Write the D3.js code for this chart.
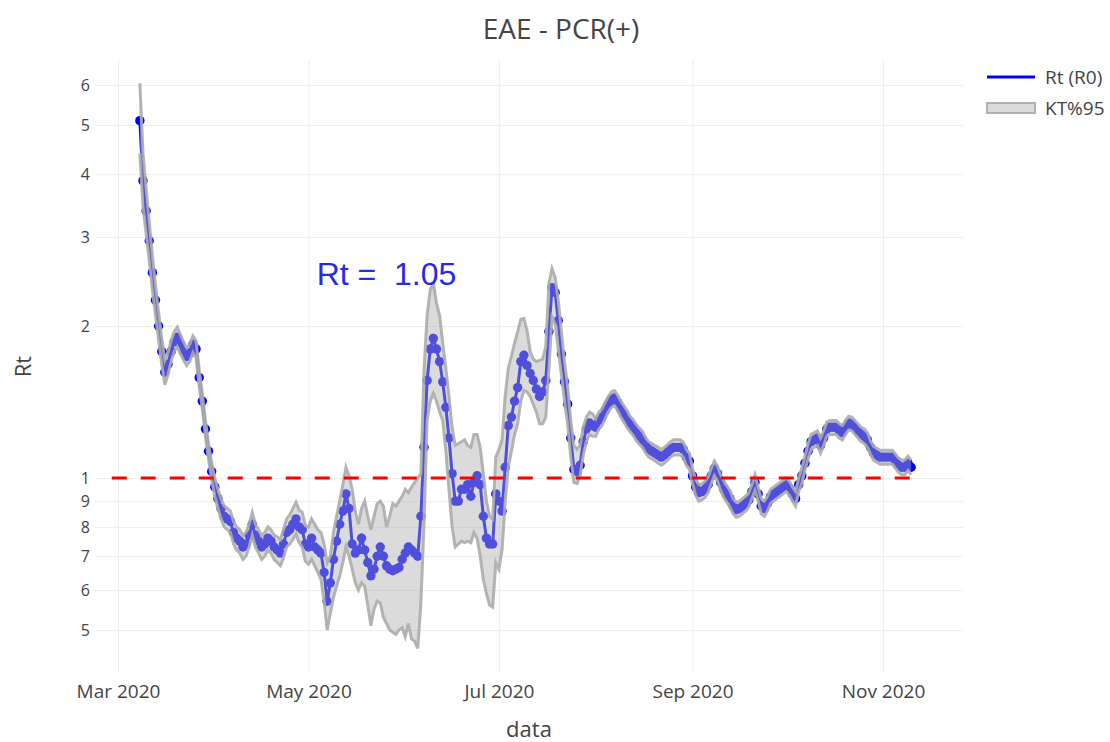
<!DOCTYPE html>
<html>
<head>
<meta charset="utf-8">
<script src="https://cdn.jsdelivr.net/npm/d3@7"></script>
<style>
  body { margin: 0; background: #fff; }
  svg { font-family: "Open Sans", verdana, arial, sans-serif; }
  .tick line { stroke: #eee; }
  .tick text { fill: #444; }
</style>
</head>
<body>
<svg id="chart"></svg>
<script>
const width = 1110,
  height = 742

// daily series, first day below, one value per day
const startDay = '2020-03-08'

const rtValues = [
  // Mar 8 - 31
  5.10, 3.88, 3.38, 2.95, 2.55, 2.25, 2.00, 1.78, 1.62, 1.68, 1.78, 1.86, 1.90, 1.84, 1.78, 1.74, 1.77, 1.84, 1.80, 1.58, 1.42, 1.25, 1.13, 1.03,
  // Apr
  0.96, 0.91, 0.87, 0.84, 0.83, 0.82, 0.78, 0.76, 0.75, 0.73, 0.74, 0.77, 0.81, 0.77, 0.75, 0.73, 0.74, 0.76, 0.75, 0.73, 0.72, 0.71, 0.74, 0.78, 0.79, 0.81, 0.83, 0.80, 0.79, 0.74,
  // May
  0.73, 0.76, 0.73, 0.72, 0.71, 0.65, 0.57, 0.62, 0.69, 0.75, 0.81, 0.86, 0.93, 0.87, 0.74, 0.71, 0.72, 0.76, 0.72, 0.68, 0.64, 0.66, 0.70, 0.73, 0.70, 0.67, 0.66, 0.655, 0.66, 0.665, 0.69,
  // Jun
  0.71, 0.73, 0.72, 0.71, 0.70, 0.84, 1.15, 1.56, 1.80, 1.89, 1.80, 1.70, 1.55, 1.38, 1.20, 1.02, 0.90, 0.90, 0.95, 0.95, 0.97, 0.92, 0.98, 1.01, 0.97, 0.84, 0.76, 0.74, 0.74, 0.93,
  // Jul
  0.90, 0.86, 1.05, 1.27, 1.32, 1.42, 1.51, 1.70, 1.75, 1.67, 1.61, 1.56, 1.50, 1.45, 1.48, 1.56, 1.95, 2.38, 2.33, 2.05, 1.76, 1.55, 1.40, 1.20, 1.04, 1.03, 1.06, 1.18, 1.25, 1.285, 1.27,
  // Aug
  1.26, 1.30, 1.32, 1.36, 1.40, 1.43, 1.44, 1.41, 1.37, 1.34, 1.31, 1.28, 1.26, 1.23, 1.21, 1.19, 1.16, 1.14, 1.13, 1.12, 1.11, 1.10, 1.11, 1.125, 1.14, 1.15, 1.15, 1.15, 1.14, 1.10, 1.08,
  // Sep
  1.01, 0.96, 0.935, 0.94, 0.95, 0.97, 1.01, 1.045, 1.02, 0.98, 0.95, 0.93, 0.91, 0.88, 0.865, 0.87, 0.88, 0.89, 0.905, 0.94, 0.98, 0.93, 0.88, 0.87, 0.89, 0.92, 0.93, 0.94, 0.95, 0.96,
  // Oct
  0.97, 0.955, 0.93, 0.91, 0.97, 1.01, 1.07, 1.13, 1.18, 1.19, 1.20, 1.16, 1.20, 1.25, 1.26, 1.26, 1.26, 1.24, 1.23, 1.26, 1.285, 1.28, 1.26, 1.24, 1.22, 1.21, 1.19, 1.15, 1.12, 1.11, 1.10,
  // Nov 1 - 10
  1.10, 1.10, 1.10, 1.10, 1.08, 1.06, 1.05, 1.05, 1.07, 1.05
]

const lowerValues = [
  4.40, 3.45, 3.05, 2.70, 2.36, 2.10, 1.88, 1.68, 1.53, 1.60, 1.70, 1.78, 1.82, 1.76, 1.71, 1.67, 1.70, 1.77, 1.73, 1.52, 1.37, 1.21, 1.09, 0.99,
  0.92, 0.87, 0.83, 0.80, 0.79, 0.78, 0.74, 0.72, 0.71, 0.69, 0.70, 0.73, 0.77, 0.73, 0.71, 0.69, 0.70, 0.72, 0.71, 0.69, 0.68, 0.67, 0.695, 0.73, 0.74, 0.755, 0.775, 0.745, 0.73, 0.685,
  0.675, 0.69, 0.67, 0.65, 0.63, 0.57, 0.50, 0.54, 0.58, 0.61, 0.64, 0.68, 0.73, 0.70, 0.66, 0.62, 0.60, 0.62, 0.61, 0.56, 0.51, 0.55, 0.57, 0.565, 0.53, 0.515, 0.50, 0.495, 0.49, 0.50, 0.505,
  0.485, 0.515, 0.48, 0.475, 0.46, 0.565, 0.81, 1.30, 1.42, 1.47, 1.42, 1.35, 1.30, 1.13, 0.95, 0.80, 0.73, 0.74, 0.75, 0.745, 0.75, 0.745, 0.78, 0.76, 0.70, 0.63, 0.59, 0.56, 0.555, 0.68,
  0.66, 0.72, 0.90, 1.05, 1.13, 1.22, 1.28, 1.42, 1.49, 1.48, 1.45, 1.40, 1.35, 1.28, 1.28, 1.32, 1.64, 2.08, 2.02, 1.80, 1.60, 1.42, 1.28, 1.10, 0.98, 0.975, 1.01, 1.11, 1.18, 1.22, 1.21,
  1.21, 1.25, 1.27, 1.31, 1.35, 1.38, 1.39, 1.36, 1.32, 1.29, 1.26, 1.235, 1.215, 1.185, 1.165, 1.15, 1.12, 1.10, 1.09, 1.08, 1.07, 1.06, 1.07, 1.085, 1.10, 1.11, 1.11, 1.11, 1.10, 1.06, 1.04,
  0.975, 0.925, 0.90, 0.905, 0.915, 0.935, 0.975, 1.01, 0.985, 0.945, 0.915, 0.895, 0.875, 0.85, 0.835, 0.84, 0.85, 0.86, 0.875, 0.91, 0.945, 0.90, 0.85, 0.84, 0.86, 0.89, 0.90, 0.91, 0.92, 0.93,
  0.94, 0.925, 0.90, 0.88, 0.94, 0.975, 1.035, 1.09, 1.14, 1.15, 1.16, 1.12, 1.16, 1.21, 1.22, 1.22, 1.22, 1.20, 1.19, 1.22, 1.245, 1.24, 1.22, 1.20, 1.18, 1.17, 1.15, 1.115, 1.085, 1.075, 1.065,
  1.065, 1.065, 1.065, 1.065, 1.045, 1.025, 1.015, 1.015, 1.035, 1.015
]

const upperValues = [
  6.05, 4.40, 3.75, 3.22, 2.76, 2.41, 2.13, 1.89, 1.71, 1.77, 1.87, 1.95, 1.99, 1.92, 1.86, 1.81, 1.84, 1.91, 1.87, 1.64, 1.47, 1.30, 1.17, 1.07,
  1.00, 0.95, 0.91, 0.88, 0.87, 0.86, 0.82, 0.80, 0.79, 0.77, 0.78, 0.81, 0.855, 0.81, 0.79, 0.77, 0.78, 0.80, 0.79, 0.77, 0.765, 0.755, 0.79, 0.83, 0.845, 0.87, 0.895, 0.865, 0.855, 0.805,
  0.80, 0.83, 0.81, 0.79, 0.78, 0.74, 0.68, 0.70, 0.78, 0.84, 0.90, 0.97, 1.05, 1.01, 0.95, 0.86, 0.81, 0.87, 0.90, 0.84, 0.79, 0.84, 0.89, 0.90, 0.88, 0.80, 0.84, 0.89, 0.88, 0.90, 0.92,
  0.95, 0.935, 0.96, 0.98, 1.00, 1.02, 1.63, 2.10, 2.36, 2.43, 2.22, 2.10, 1.85, 1.65, 1.45, 1.26, 1.16, 1.17, 1.18, 1.19, 1.16, 1.15, 1.22, 1.22, 1.15, 1.02, 0.90, 0.84, 0.83, 1.10,
  1.14, 1.19, 1.45, 1.65, 1.74, 1.85, 1.95, 2.06, 2.07, 1.96, 1.78, 1.72, 1.70, 1.71, 1.72, 1.82, 2.43, 2.60, 2.50, 2.25, 1.95, 1.70, 1.52, 1.30, 1.16, 1.14, 1.16, 1.26, 1.32, 1.35, 1.34,
  1.31, 1.35, 1.37, 1.41, 1.45, 1.48, 1.49, 1.46, 1.42, 1.39, 1.36, 1.325, 1.305, 1.275, 1.255, 1.235, 1.20, 1.18, 1.17, 1.16, 1.15, 1.14, 1.15, 1.165, 1.18, 1.19, 1.19, 1.19, 1.18, 1.14, 1.12,
  1.045, 0.995, 0.97, 0.975, 0.985, 1.005, 1.045, 1.08, 1.055, 1.015, 0.985, 0.965, 0.945, 0.91, 0.895, 0.90, 0.91, 0.92, 0.935, 0.97, 1.015, 0.96, 0.91, 0.90, 0.92, 0.95, 0.96, 0.97, 0.98, 0.99,
  1.00, 0.985, 0.96, 0.94, 1.00, 1.045, 1.105, 1.17, 1.22, 1.23, 1.24, 1.20, 1.24, 1.29, 1.30, 1.30, 1.30, 1.28, 1.27, 1.30, 1.325, 1.32, 1.30, 1.28, 1.26, 1.25, 1.23, 1.185, 1.155, 1.145, 1.135,
  1.135, 1.135, 1.135, 1.135, 1.115, 1.095, 1.085, 1.085, 1.105, 1.085
]

const xTicks = ['2020-03-01', '2020-05-01', '2020-07-01', '2020-09-01', '2020-11-01']
const yTicks = [0.5, 0.6, 0.7, 0.8, 0.9, 1, 2, 3, 4, 5, 6]
const yTickLabels = ['5', '6', '7', '8', '9', '1', '2', '3', '4', '5', '6']
const thresholdDays = ['2020-02-28', '2020-11-10']
const thresholdValue = 1
const legendLabels = ['Rt (R0)', 'KT%95']
const annotationAt = ['2020-05-26', 2.53]

let plot = { left: 95, right: 963, top: 60, bottom: 673 }
let lineBlue = 'blue',
  bandFill = 'rgba(175,175,175,0.45)',
  bandEdge = 'rgba(172,172,172,0.9)'

let parseDay = d3.utcParse('%Y-%m-%d')
let first = parseDay(startDay)
let days = d3.utcDays(first, d3.utcDay.offset(first, rtValues.length))
let rows = rtValues.map((v, i) => ({ date: days[i], rt: v, lo: lowerValues[i], hi: upperValues[i] }))

let x = d3.scaleUtc()
  .domain([new Date(Date.UTC(2020, 1, 22, 15, 13)), new Date(Date.UTC(2020, 10, 26, 15))])
  .range([plot.left, plot.right])

let y = d3.scaleLog()
  .domain([0.411, 6.725])
  .range([plot.bottom, plot.top])

let svg = d3.select('#chart')
  .attr('width', width)
  .attr('height', height)

// grid + tick labels
let xAxis = svg.append('g')
  .attr('transform', `translate(0,${plot.bottom})`)
  .call(d3.axisBottom(x)
    .tickValues(xTicks.map(parseDay))
    .tickFormat(d3.utcFormat('%b %Y'))
    .tickSize(-(plot.bottom - plot.top))
    .tickPadding(12))
xAxis.select('.domain').remove()
xAxis.attr('font-family', null).attr('font-size', 19)

let yAxis = svg.append('g')
  .attr('transform', `translate(${plot.left},0)`)
  .call(d3.axisLeft(y)
    .tickValues(yTicks)
    .tickFormat((d, i) => yTickLabels[i])
    .tickSize(-(plot.right - plot.left))
    .tickPadding(5))
yAxis.select('.domain').remove()
yAxis.attr('font-family', null).attr('font-size', 16)

// Rt line with markers
let rtLine = d3.line()
  .x(d => x(d.date))
  .y(d => y(d.rt))

svg.append('path')
  .datum(rows)
  .attr('d', rtLine)
  .attr('fill', 'none')
  .attr('stroke', lineBlue)
  .attr('stroke-width', 3)

svg.append('g')
  .selectAll('circle')
  .data(rows)
  .enter()
    .append('circle')
    .attr('cx', d => x(d.date))
    .attr('cy', d => y(d.rt))
    .attr('r', 4.7)
    .attr('fill', lineBlue)

// confidence band sits on top of the line
let band = d3.area()
  .x(d => x(d.date))
  .y0(d => y(d.lo))
  .y1(d => y(d.hi))

svg.append('path')
  .datum(rows)
  .attr('d', band)
  .attr('fill', bandFill)

;['lo', 'hi'].forEach(k => {
  svg.append('path')
    .datum(rows)
    .attr('d', d3.line().x(d => x(d.date)).y(d => y(d[k])))
    .attr('fill', 'none')
    .attr('stroke', bandEdge)
    .attr('stroke-width', 3)
})

// Rt = 1 reference
svg.append('line')
  .attr('x1', x(parseDay(thresholdDays[0])))
  .attr('x2', x(parseDay(thresholdDays[1])))
  .attr('y1', y(thresholdValue))
  .attr('y2', y(thresholdValue))
  .attr('stroke', 'red')
  .attr('stroke-width', 3.2)
  .attr('stroke-dasharray', '15,14')

let lastRt = rtValues[rtValues.length - 1]
svg.append('text')
  .attr('x', x(parseDay(annotationAt[0])))
  .attr('y', y(annotationAt[1]))
  .attr('text-anchor', 'middle')
  .attr('dominant-baseline', 'central')
  .style('white-space', 'pre')
  .attr('font-family', '"Liberation Sans", Arial, sans-serif')
  .attr('font-size', 32)
  .attr('fill', 'rgb(40,40,235)')
  .text(`Rt =  ${lastRt.toFixed(2)}`)

// titles
svg.append('text')
  .attr('x', 561)
  .attr('y', 28)
  .attr('text-anchor', 'middle')
  .attr('dominant-baseline', 'central')
  .attr('font-size', 28)
  .attr('fill', '#444')
  .text('EAE - PCR(+)')

svg.append('text')
  .attr('x', (plot.left + plot.right) / 2)
  .attr('y', 728)
  .attr('text-anchor', 'middle')
  .attr('dominant-baseline', 'central')
  .attr('font-size', 22)
  .attr('fill', '#444')
  .text('data')

svg.append('text')
  .attr('transform', `translate(22,${(plot.top + plot.bottom) / 2}) rotate(-90)`)
  .attr('text-anchor', 'middle')
  .attr('dominant-baseline', 'central')
  .attr('font-size', 22)
  .attr('fill', '#444')
  .text('Rt')

// legend
let legend = svg.append('g')
  .attr('transform', 'translate(987,77)')

legend.append('line')
  .attr('x1', 0).attr('x2', 48)
  .attr('stroke', lineBlue)
  .attr('stroke-width', 3)

legend.append('rect')
  .attr('x', 0).attr('y', 26)
  .attr('width', 48).attr('height', 10)
  .attr('fill', bandFill)
  .attr('stroke', bandEdge)
  .attr('stroke-width', 2)

legend.selectAll('text')
  .data(legendLabels)
  .enter()
    .append('text')
    .attr('x', 58)
    .attr('y', (d, i) => i * 31)
    .attr('dominant-baseline', 'central')
    .attr('font-size', 19)
    .attr('fill', '#444')
    .text(d => d)
</script>
</body>
</html>
